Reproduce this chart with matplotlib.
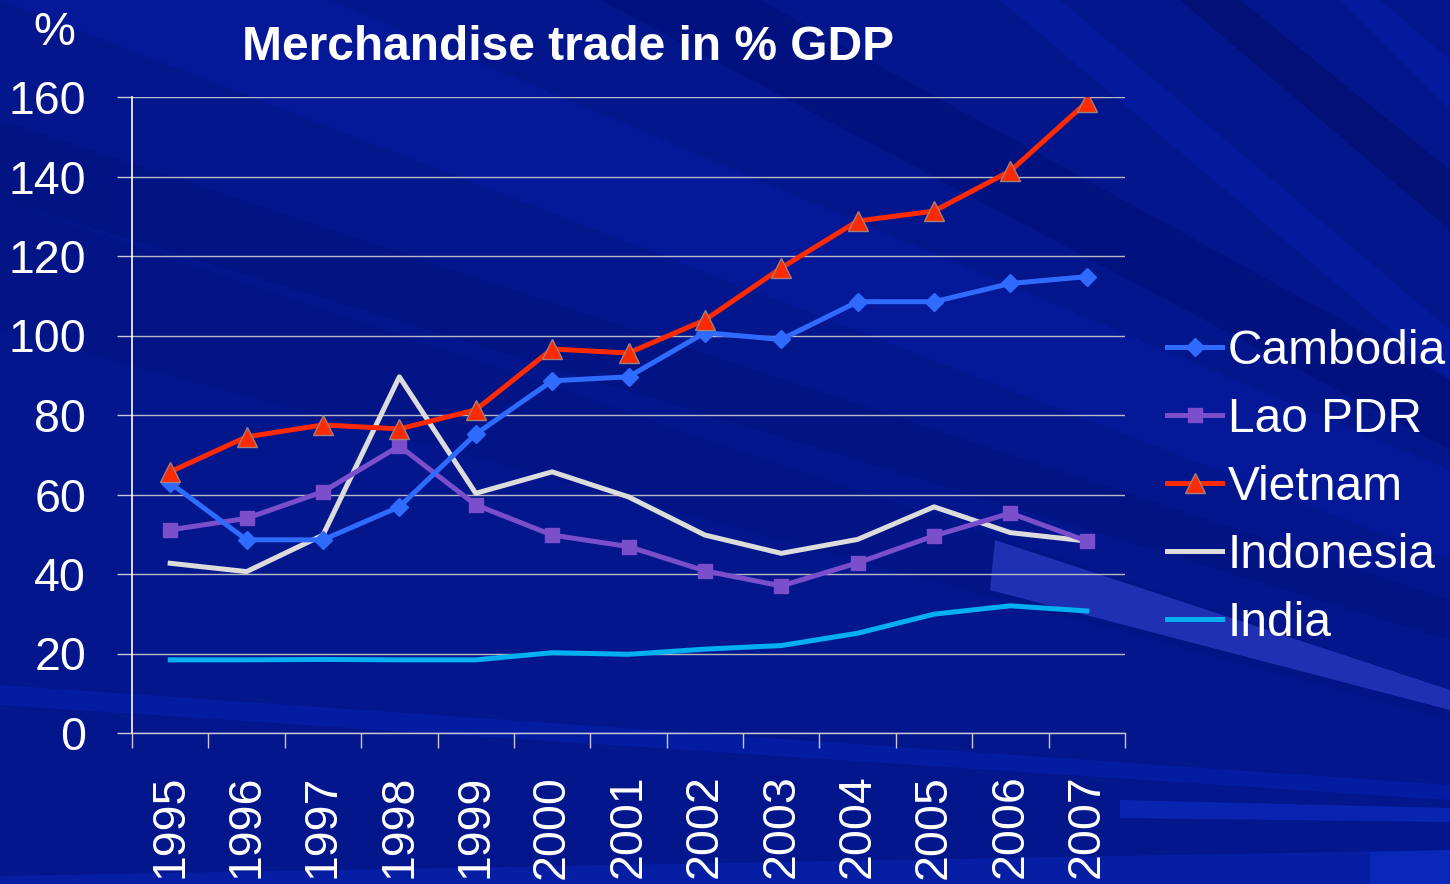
import matplotlib
matplotlib.use("Agg")
import matplotlib.pyplot as plt
from matplotlib.patches import Polygon
import numpy as np

years = ["1995", "1996", "1997", "1998", "1999", "2000", "2001",
         "2002", "2003", "2004", "2005", "2006", "2007"]
cambodia = [62.9, 48.6, 48.6, 56.9, 75.2, 88.6, 89.6, 100.7, 99.0, 108.5, 108.5, 113.1, 114.8]
lao_pdr = [51.1, 54.0, 60.7, 72.2, 57.4, 49.8, 46.9, 40.8, 37.0, 42.8, 49.6, 55.3, 48.3]
vietnam = [65.7, 74.5, 77.5, 76.5, 81.3, 96.6, 95.6, 103.9, 117.0, 128.8, 131.3, 141.4, 158.7]
indonesia = [42.7, 40.6, 49.8, 89.6, 60.3, 65.7, 59.4, 49.8, 45.2, 48.7, 56.9, 50.4, 48.3]
india = [18.4, 18.4, 18.5, 18.4, 18.4, 20.2, 19.8, 21.1, 22.0, 25.1, 29.9, 32.0, 30.7]
yticks = [0, 20, 40, 60, 80, 100, 120, 140, 160]

W, H = 1450, 884
plt.rcParams['font.family'] = ['Liberation Sans', 'DejaVu Sans']
fig = plt.figure(figsize=(W / 100, H / 100), dpi=100)
fig.patch.set_facecolor('#03168C')


def px(pts):
    return [(x / W, 1 - y / H) for x, y in pts]


def band(pts, color, alpha=1.0):
    fig.add_artist(Polygon(px(pts), closed=True, transform=fig.transFigure,
                           facecolor=color, edgecolor='none', alpha=alpha, zorder=-10))


# decorative background streaks (subtle)
band([(0, 0), (330, 0), (1450, 470), (1450, 560)], '#041898')
band([(0, 120), (0, 200), (1450, 640), (1450, 600)], '#021384')
band([(600, 0), (760, 0), (1450, 380), (1450, 450)], '#011280')
band([(1000, 0), (1060, 0), (1450, 330), (1450, 380)], '#05199C')
band([(1180, 0), (1240, 0), (1450, 170), (1450, 230)], '#021078')
band([(1340, 0), (1380, 0), (1450, 60), (1450, 110)], '#05199C')
band([(0, 200), (0, 330), (1450, 720), (1450, 690)], '#021486')
band([(995, 540), (1450, 690), (1450, 710), (990, 590)], '#2030B2')
band([(0, 685), (0, 705), (1450, 800), (1450, 785)], '#041CA2')
band([(1120, 800), (1450, 808), (1450, 822), (1120, 818)], '#0824B0')
band([(0, 884), (0, 876), (1450, 850), (1450, 884)], '#051EA4')
band([(1370, 852), (1450, 850), (1450, 884), (1370, 884)], '#0A28B8')

ax = fig.add_axes([132 / W, 151 / H, (1125 - 132) / W, (733 - 97) / H])
ax.set_facecolor('none')
x = np.arange(len(years))

ax.plot(x, indonesia, color='#DCDCDC', lw=3.6, label='Indonesia', zorder=3)
ax.plot(x, india, color='#00B0F0', lw=3.6, label='India', zorder=3)
ax.plot(x, lao_pdr, color='#7B4FCC', lw=3.6, marker='s', ms=10, label='Lao PDR', zorder=4)
ax.plot(x, cambodia, color='#2F6BFF', lw=3.6, marker='D', ms=9.5, label='Cambodia', zorder=5)
ax.plot(x, vietnam, color='#FF2A00', lw=3.6, marker='^', ms=14, mec='#A08080', mew=1,
        label='Vietnam', zorder=6)

ax.set_xlim(-0.5, len(years) - 0.5)
ax.set_ylim(0, 160)
ax.set_yticks(yticks)
ax.set_yticklabels([str(v) for v in yticks])
ax.set_xticks(x)
ax.set_xticklabels(years, rotation=90, va='top')
ax.set_xticks(np.arange(len(years) + 1) - 0.5, minor=True)
ax.tick_params(axis='x', which='major', length=0, pad=30, labelsize=33.5, colors='white')
ax.tick_params(axis='x', which='minor', length=11, width=1, color='#C8C8D8')
ax.tick_params(axis='y', length=11, width=1, color='#C8C8D8', pad=22, labelsize=33.5,
               labelcolor='white')
ax.grid(axis='y', color='#B8B8C8', lw=1)
ax.set_axisbelow(True)
for s in ['top', 'right']:
    ax.spines[s].set_visible(False)
ax.spines['left'].set_color('white')
ax.spines['left'].set_linewidth(1.2)
ax.spines['bottom'].set_color('#C8C8D8')
ax.spines['bottom'].set_linewidth(1)

h, l = ax.get_legend_handles_labels()
order = ['Cambodia', 'Lao PDR', 'Vietnam', 'Indonesia', 'India']
hd = dict(zip(l, h))
leg = ax.legend([hd[k] for k in order], order, loc='center left',
                bbox_to_anchor=(1167 / W, 1 - 487 / H), bbox_transform=fig.transFigure,
                frameon=False, fontsize=34.5, handlelength=1.15, handletextpad=0.12,
                labelspacing=0.48, borderpad=0, borderaxespad=0, labelcolor='white')

fig.text(568 / W, 1 - 48 / H, 'Merchandise trade in % GDP', ha='center', va='center',
         fontsize=34.5, fontweight='bold', color='white')
fig.text(54 / W, 1 - 33 / H, '%', ha='center', va='center', fontsize=34, color='white')

fig.savefig('out.png', dpi=100, facecolor=fig.get_facecolor())
